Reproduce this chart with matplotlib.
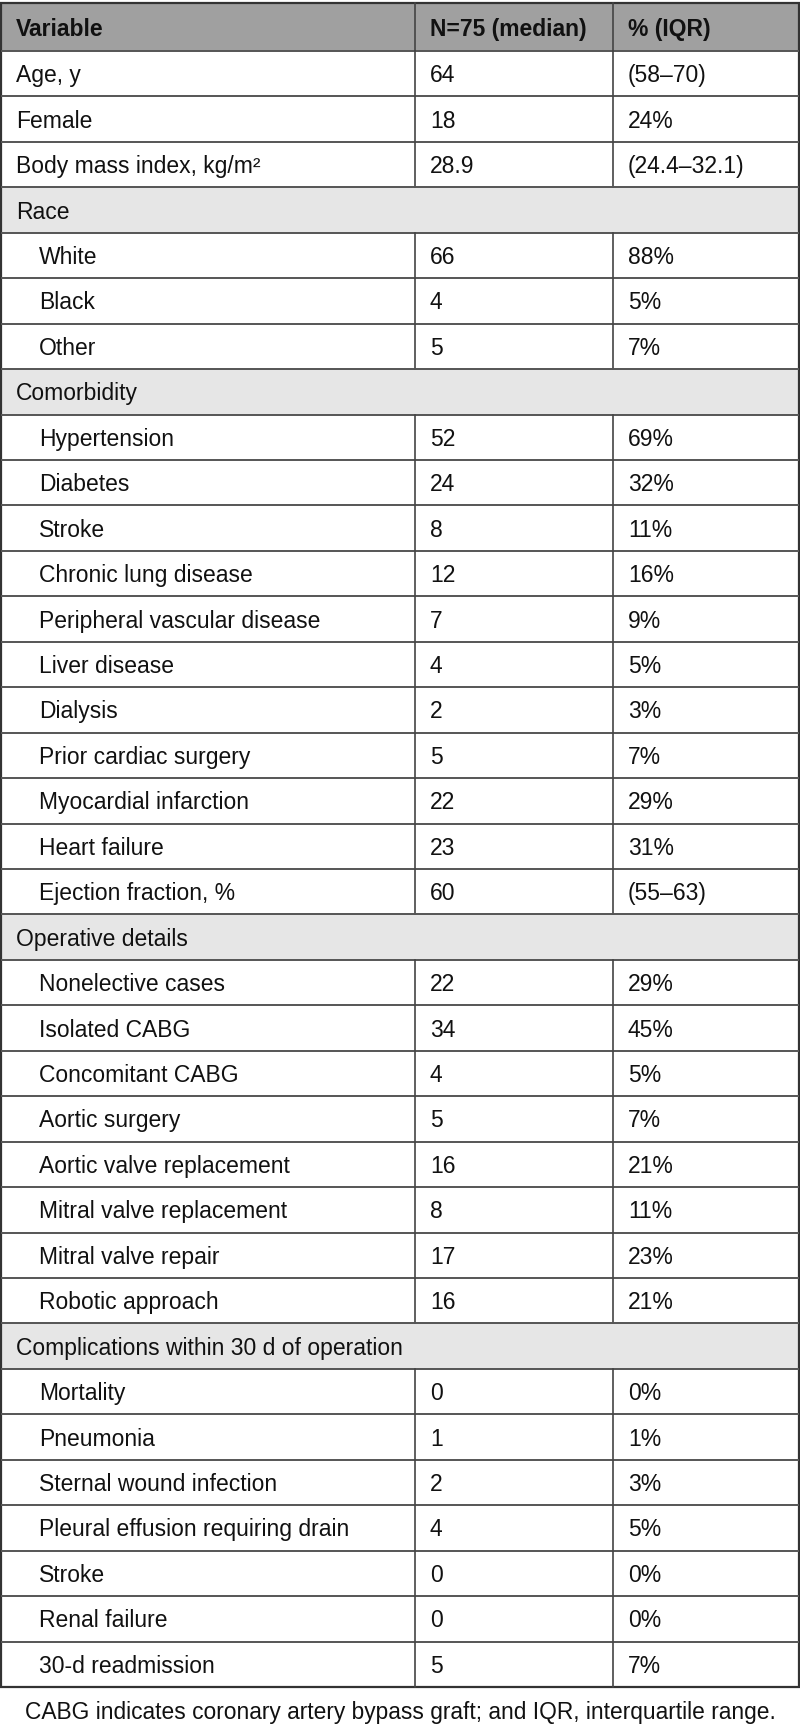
import matplotlib
matplotlib.use("Agg")
import matplotlib.pyplot as plt
from matplotlib.patches import Rectangle

# table content
headers = ["Variable", "N=75 (median)", "% (IQR)"]
labels = [
    "Age, y", "Female", "Body mass index, kg/m\u00b2",
    "Race", "White", "Black", "Other",
    "Comorbidity", "Hypertension", "Diabetes", "Stroke", "Chronic lung disease",
    "Peripheral vascular disease", "Liver disease", "Dialysis", "Prior cardiac surgery",
    "Myocardial infarction", "Heart failure", "Ejection fraction, %",
    "Operative details", "Nonelective cases", "Isolated CABG", "Concomitant CABG",
    "Aortic surgery", "Aortic valve replacement", "Mitral valve replacement",
    "Mitral valve repair", "Robotic approach",
    "Complications within 30 d of operation", "Mortality", "Pneumonia",
    "Sternal wound infection", "Pleural effusion requiring drain", "Stroke",
    "Renal failure", "30-d readmission",
]
counts = [
    "64", "18", "28.9",
    "", "66", "4", "5",
    "", "52", "24", "8", "12", "7", "4", "2", "5", "22", "23", "60",
    "", "22", "34", "4", "5", "16", "8", "17", "16",
    "", "0", "1", "2", "4", "0", "0", "5",
]
percents = [
    "(58\u201370)", "24%", "(24.4\u201332.1)",
    "", "88%", "5%", "7%",
    "", "69%", "32%", "11%", "16%", "9%", "5%", "3%", "7%", "29%", "31%", "(55\u201363)",
    "", "29%", "45%", "5%", "7%", "21%", "11%", "23%", "21%",
    "", "0%", "1%", "3%", "5%", "0%", "0%", "7%",
]
sections = ["Race", "Comorbidity", "Operative details",
            "Complications within 30 d of operation"]
footnote = "CABG indicates coronary artery bypass graft; and IQR, interquartile range."

W, H = 800, 1733
fig = plt.figure(figsize=(W / 100, H / 100), dpi=100)
ax = fig.add_axes([0, 0, 1, 1])
ax.set_xlim(0, W)
ax.set_ylim(H, 0)
ax.axis("off")

font = ["Liberation Sans", "DejaVu Sans"]
fs = 16.5
col_x = [1, 415, 613, 799]
top, head_bot, bottom = 4, 52, 1688
row_h = (bottom - head_bot) / len(labels)

# header
ax.add_patch(Rectangle((col_x[0], top), col_x[-1] - col_x[0], head_bot - top,
                       facecolor="#a0a0a0", edgecolor="none"))
for j, h in enumerate(headers):
    ax.text(col_x[j] + 15, (top + head_bot) / 2 + 1, h, fontsize=fs, fontweight="bold",
            family=font, va="center", ha="left", color="#111111")

# body rows
in_section = False
for i, lab in enumerate(labels):
    y0 = head_bot + i * row_h
    yc = y0 + row_h / 2 + 1
    if lab in sections:
        in_section = True
        ax.add_patch(Rectangle((col_x[0], y0), col_x[-1] - col_x[0], row_h,
                               facecolor="#e6e6e6", edgecolor="none"))
        ax.text(col_x[0] + 15, yc, lab, fontsize=fs, family=font, va="center", color="#111111")
    else:
        indent = 38 if in_section else 15
        ax.text(col_x[0] + indent, yc, lab, fontsize=fs, family=font, va="center", color="#111111")
        ax.text(col_x[1] + 15, yc, counts[i], fontsize=fs, family=font, va="center", color="#111111")
        ax.text(col_x[2] + 15, yc, percents[i], fontsize=fs, family=font, va="center", color="#111111")
    # horizontal rule
    ax.plot([col_x[0], col_x[-1]], [y0, y0], color="#555555", lw=1.4, solid_capstyle="butt")
    # vertical rules only on non-section rows
    if lab not in sections:
        for xv in col_x[1:-1]:
            ax.plot([xv, xv], [y0, y0 + row_h], color="#444444", lw=1.2)

# header verticals
for xv in col_x[1:-1]:
    ax.plot([xv, xv], [top, head_bot], color="#444444", lw=1.2)

# outer border
ax.add_patch(Rectangle((col_x[0], top), col_x[-1] - col_x[0], bottom - top,
                       facecolor="none", edgecolor="#333333", lw=1.6))

ax.text(W / 2, 1713, footnote, fontsize=16.4, family=font,
        ha="center", va="center", color="#111111")

fig.savefig("out.png", dpi=100)
